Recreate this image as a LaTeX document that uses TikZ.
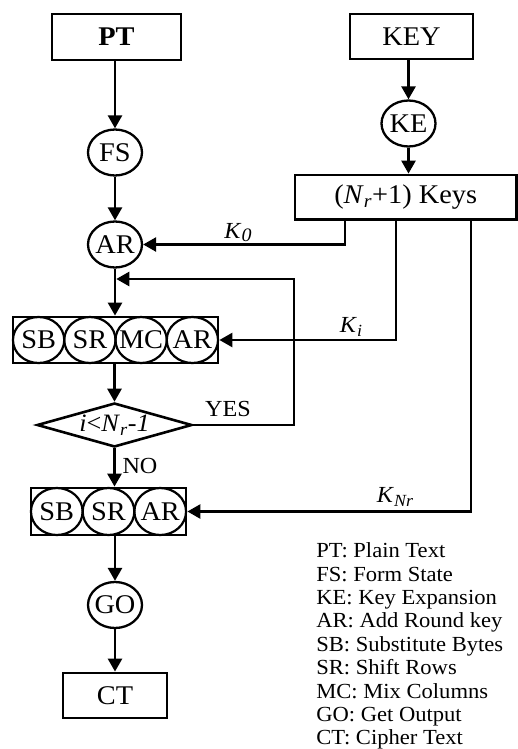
\documentclass[tikz,border=0pt]{standalone}
\usepackage{fontspec}
\setmainfont{Liberation Serif}[FakeStretch=1.05]
\usetikzlibrary{arrows.meta,shapes.geometric}
\newcommand\zc[1]{\makebox[0pt]{#1}}
\begin{document}
\begin{tikzpicture}[x=1pt,y=-1pt,
  line width=2.6pt,
  arr/.style={-{Triangle[length=13pt,width=14pt]}, line width=2.6pt},
  boxn/.style={draw, rectangle, line width=2.8pt, inner sep=0pt},
  circn/.style={draw, ellipse, line width=2.3pt, inner sep=0pt,
    minimum width=54pt, minimum height=46pt, font=\fontsize{27}{27}\selectfont},
  rowc/.style={draw, ellipse, line width=2.2pt, inner sep=0pt,
    minimum width=51.3pt, minimum height=46pt, font=\fontsize{27}{27}\selectfont},
  lbl/.style={inner sep=0pt, font=\fontsize{23}{23}\selectfont},
  big/.style={font=\fontsize{27}{27}\selectfont}
]
\useasboundingbox (0,0) rectangle (518,749);

% top boxes
\node[boxn, big, minimum width=129pt, minimum height=46pt] (pt) at (116.5,37) {\textbf{PT}};
\node[boxn, big, minimum width=123pt, minimum height=45pt] (key) at (411.5,36.5) {KEY};
\node[circn] (ke) at (408.5,123.5) {\zc{KE}};
\node[boxn, big, minimum width=221.5pt, minimum height=44.5pt] (keys) at (405.75,197.25)
  {(\textit{N}\textsubscript{\textit{r}}+1) Keys};

% left column
\node[circn] (fs) at (115,152.5) {\zc{FS}};
\node[circn] (ar0) at (115,244.5) {\zc{AR}};

% round box 1
\node[boxn, minimum width=205pt, minimum height=46pt] (r1) at (115.5,340) {};
\node[rowc] (r1sb) at (38.6,340) {\zc{SB}};
\node[rowc] (r1sr) at (89.9,340) {\zc{SR}};
\node[rowc] (r1mc) at (141.1,340) {\zc{MC}};
\node[rowc] (r1ar) at (192.4,340) {\zc{AR}};

% decision
\node[draw, diamond, line width=2.6pt, inner sep=0pt, minimum width=155pt, minimum height=44pt,
  font=\fontsize{25}{25}\selectfont] (dia) at (114.5,425)
  {\zc{\textit{i}<\textit{N}\textsubscript{\textit{r}}-\textit{1}}};

% round box 2
\node[boxn, minimum width=155pt, minimum height=47pt] (r2) at (108.5,511.5) {};
\node[rowc, minimum width=51.7pt, minimum height=47pt] (r2sb) at (56.8,511.5) {\zc{SB}};
\node[rowc, minimum width=51.7pt, minimum height=47pt] (r2sr) at (108.5,511.5) {\zc{SR}};
\node[rowc, minimum width=51.7pt, minimum height=47pt] (r2ar) at (160.2,511.5) {\zc{AR}};

% output
\node[circn] (go) at (115,605) {\zc{GO}};
\node[boxn, big, minimum width=104pt, minimum height=45pt] (ct) at (115,695.5) {CT};

% helper coordinates
\coordinate (kx0) at (345,0);
\coordinate (kxi) at (396,0);
\coordinate (kxn) at (471,0);
\coordinate (loopR) at (294,279);

% main flow
\draw[arr] (pt.south -| fs.north) -- (fs.north);
\draw[arr] (key.south -| ke.north) -- (ke.north);
\draw[arr] (ke.south) -- (keys.north -| ke.south);
\draw[arr] (fs.south) -- (ar0.north);
\draw[arr] (ar0.south) -- (r1.north -| ar0.south);
\draw[arr] (r1.south -| dia.north) -- (dia.north);
\draw[arr] (dia.south) -- (r2.north -| dia.south);
\draw[arr] (r2.south -| go.north) -- (go.north);
\draw[arr] (go.south) -- (ct.north);

% loop back
\draw[arr, shorten >=1.3pt] (dia.east) -| (loopR) -- (loopR -| ar0.south);

% keys
\draw[arr] (keys.south -| kx0) |- (ar0.east);
\draw[arr] (keys.south -| kxi) |- (r1.east);
\draw[arr] (keys.south -| kxn) |- (r2.east);

% labels
\node[lbl] (lk0) at (238,233) {\textit{K}\raisebox{-3pt}{\textit{\fontsize{19}{19}\selectfont 0}}};
\node[lbl] (lki) at (351,327) {\textit{K}\raisebox{-4pt}{\textit{\fontsize{17}{17}\selectfont i}}};
\node[lbl] (lkn) at (395,497) {\textit{K}\raisebox{-4pt}{\textit{\fontsize{17}{17}\selectfont Nr}}};
\node[lbl] (yes) at (228,409) {YES};
\node[lbl] (no) at (140,466) {NO};

% legend
\node[anchor=north west, inner sep=0pt, align=left,
  font=\fontsize{21.5}{23.4}\selectfont] (legend) at (315,541.5)
  {PT: Plain Text\\
   FS: Form State\\
   KE: Key Expansion\\
   AR: Add Round key\\
   SB: Substitute Bytes\\
   SR: Shift Rows\\
   MC: Mix Columns\\
   GO: Get Output\\
   CT: Cipher Text};
\end{tikzpicture}
\end{document}
